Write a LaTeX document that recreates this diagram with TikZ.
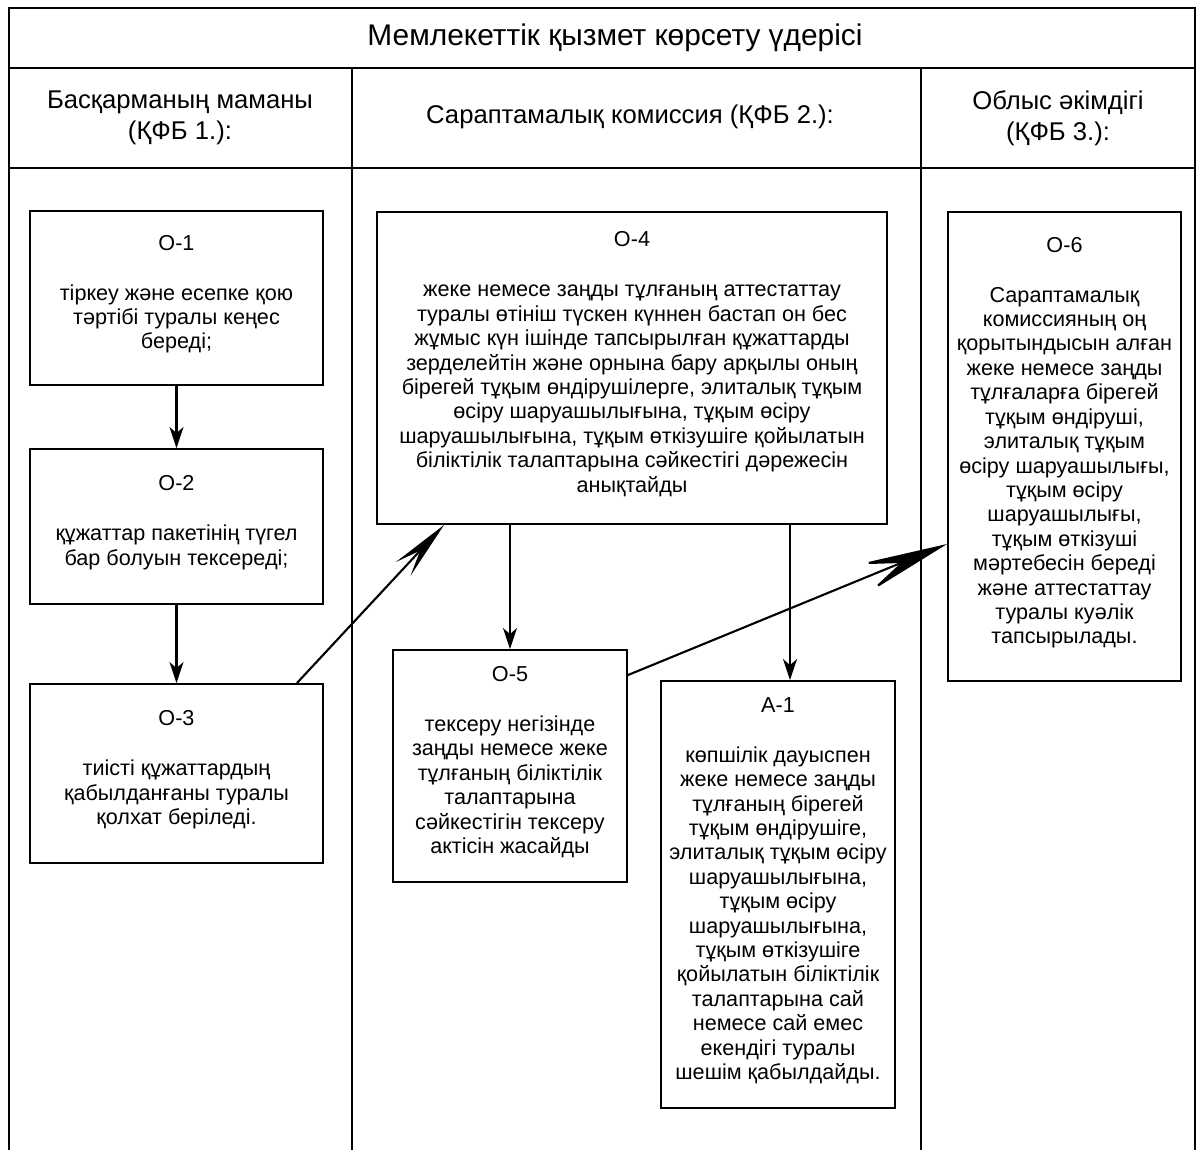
\documentclass[tikz,border=0pt]{standalone}
\usepackage{fontspec}
\setmainfont{Liberation Sans}
\usetikzlibrary{arrows.meta}

\tikzset{
  stepbox/.style={draw, line width=1.1pt, align=center, inner sep=2pt,
    font=\fontsize{12.3}{13.9}\selectfont,
    execute at end node={\rule[-0.24cm]{0pt}{0pt}}},
  lane/.style={line width=1.3pt},
  titletext/.style={font=\fontsize{17}{20}\selectfont},
  headtext/.style={align=center, font=\fontsize{14.6}{17.6}\selectfont},
  shorthead/.style={line width=1.2pt, -{Stealth[length=0.42cm,width=0.28cm,inset=0.12cm]}},
  longhead/.style={line width=1.2pt, -{Stealth[length=1.2cm,width=0.4cm,inset=0.5cm]}},
  longerhead/.style={line width=1.2pt, -{Stealth[length=1.8cm,width=0.6cm,inset=0.8cm]}}
}

\begin{document}
\begin{tikzpicture}[x=0.02cm,y=-0.02cm]
        \useasboundingbox (0,0) rectangle (1197,1150);

        \draw [lane] (9,1150) -- (9,8) -- (1195,8) -- (1195,1150);
        \draw [lane] (9,68) -- (1195,68);
        \draw [lane] (9,168) -- (1195,168);
        \draw [lane] (352,68) -- (352,1150);
        \draw [lane] (921,68) -- (921,1150);

        \node [titletext] (title) at (615,38) {Мемлекеттік қызмет көрсету үдерісі};
        \node [headtext] (lane1) at (180,118) {Басқарманың маманы\\(ҚФБ 1.):};
        \node [headtext] (lane2) at (630,117) {Сараптамалық комиссия (ҚФБ 2.):};
        \node [headtext] (lane3) at (1058,118) {Облыс әкімдігі\\(ҚФБ 3.):};

        \node [stepbox, minimum width=5.86cm, minimum height=3.48cm] (o1) at (176.5,298)
          {О-1\\[0.51cm]тіркеу және есепке қою\\тәртібі туралы кеңес\\береді;};
        \node [stepbox, minimum width=5.86cm, minimum height=3.1cm] (o2) at (176.5,526.5)
          {О-2\\[0.51cm]құжаттар пакетінің түгел\\бар болуын тексереді;};
        \node [stepbox, minimum width=5.86cm, minimum height=3.58cm] (o3) at (176.5,773.5)
          {О-3\\[0.51cm]тиісті құжаттардың\\қабылданғаны туралы\\қолхат беріледі.};

        \node [stepbox, minimum width=10.2cm, minimum height=6.24cm] (o4) at (632,368)
          {О-4\\[0.51cm]жеке немесе заңды тұлғаның аттестаттау\\туралы өтініш түскен күннен бастап он бес\\жұмыс күн ішінде тапсырылған құжаттарды\\зерделейтін және орнына бару арқылы оның\\бірегей тұқым өндірушілерге, элиталық тұқым\\өсіру шаруашылығына, тұқым өсіру\\шаруашылығына, тұқым өткізушіге қойылатын\\біліктілік талаптарына сәйкестігі дәрежесін\\анықтайды};
        \node [stepbox, minimum width=4.68cm, minimum height=4.64cm] (o5) at (510,766)
          {О-5\\[0.51cm]тексеру негізінде\\заңды немесе жеке\\тұлғаның біліктілік\\талаптарына\\сәйкестігін тексеру\\актісін жасайды};
        \node [stepbox, minimum width=4.68cm, minimum height=8.54cm] (a1) at (778,894.5)
          {А-1\\[0.51cm]көпшілік дауыспен\\жеке немесе заңды\\тұлғаның бірегей\\тұқым өндірушіге,\\элиталық тұқым өсіру\\шаруашылығына,\\тұқым өсіру\\шаруашылығына,\\тұқым өткізушіге\\қойылатын біліктілік\\талаптарына сай\\немесе сай емес\\екендігі туралы\\шешім қабылдайды.};

        \node [stepbox, minimum width=4.66cm, minimum height=9.38cm] (o6) at (1064.5,446.5)
          {О-6\\[0.51cm]Сараптамалық\\комиссияның оң\\қорытындысын алған\\жеке немесе заңды\\тұлғаларға бірегей\\тұқым өндіруші,\\элиталық тұқым\\өсіру шаруашылығы,\\тұқым өсіру\\шаруашылығы,\\тұқым өткізуші\\мәртебесін береді\\және аттестаттау\\туралы куәлік\\тапсырылады.};

        \draw [shorthead] (o1) -- (o2);
        \draw [shorthead] (o2) -- (o3);
        \draw [longhead] ([xshift=-0.54cm]o3.north east) -- ([xshift=1.36cm]o4.south west);
        \draw [shorthead] (o4.south -| o5.north) -- (o5.north);
        \draw [shorthead] ([xshift=0.24cm]o4.south -| a1.north) -- ([xshift=0.24cm]a1.north);
        \draw [longerhead] ([yshift=-0.52cm]o5.north east) -- ([yshift=-6.66cm]o6.north west);
      \end{tikzpicture}
\end{document}
